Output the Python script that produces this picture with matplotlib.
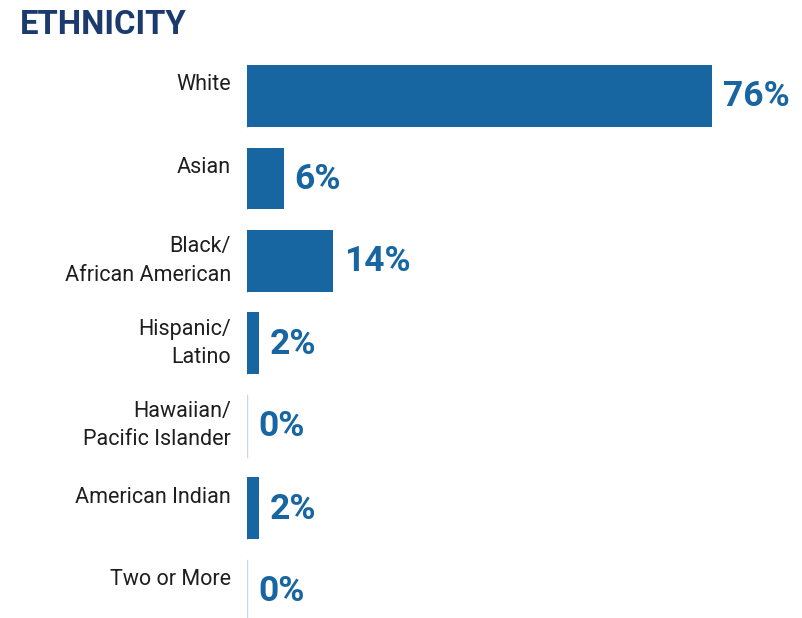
import matplotlib.pyplot as plt
import matplotlib.transforms as mtransforms

plt.rcParams['font.family'] = ['Roboto', 'DejaVu Sans']

categories = ['White', 'Asian', 'Black/\nAfrican American', 'Hispanic/\nLatino',
              'Hawaiian/\nPacific Islander', 'American Indian', 'Two or More']
values = [76, 6, 14, 2, 0, 2, 0]

bar_color = '#1766a2'
title_color = '#1b3b6f'

fig = plt.figure(figsize=(8.03, 6.18), dpi=100)
# axes spans the bar area; the last bar runs slightly off the bottom edge
ax = fig.add_axes([247 / 803, 1 - 632 / 618, 465 / 803, (632 - 54.75) / 618])

ypos = list(range(len(categories)))
ax.barh(ypos, values, height=0.75, color=bar_color, zorder=2)

# faint baseline per row
for y in ypos:
    ax.plot([0, 0], [y - 0.375, y + 0.375], color='#cdd6e0', lw=1, zorder=1)

ax.set_xlim(0, 76)
ax.set_ylim(len(categories) - 0.5, -0.5)
ax.axis('off')

# category labels to the left of the bars
lab_tr = ax.get_yaxis_transform()
for y, cat in zip(ypos, categories):
    if '\n' in cat:
        off = mtransforms.offset_copy(lab_tr, fig=fig, x=-16, y=0, units='dots')
        ax.text(0, y, cat, transform=off, ha='right', va='center',
                fontsize=15.5, color='#1e1e1e', linespacing=1.45)
    else:
        off = mtransforms.offset_copy(lab_tr, fig=fig, x=-16, y=11, units='dots')
        ax.text(0, y, cat, transform=off, ha='right', va='center',
                fontsize=15.5, color='#1e1e1e')

# value labels at the bar ends
for y, v in zip(ypos, values):
    off = mtransforms.offset_copy(ax.transData, fig=fig, x=11, y=-1, units='dots')
    ax.text(v, y, f'{v}%', transform=off, ha='left', va='center',
            fontsize=25.5, fontweight='bold', color=bar_color, clip_on=False)

fig.text(20 / 803, 1 - 25 / 618, 'ETHNICITY', ha='left', va='center',
         fontsize=23.7, fontweight='bold', color=title_color)

fig.savefig('out.png', dpi=100)
